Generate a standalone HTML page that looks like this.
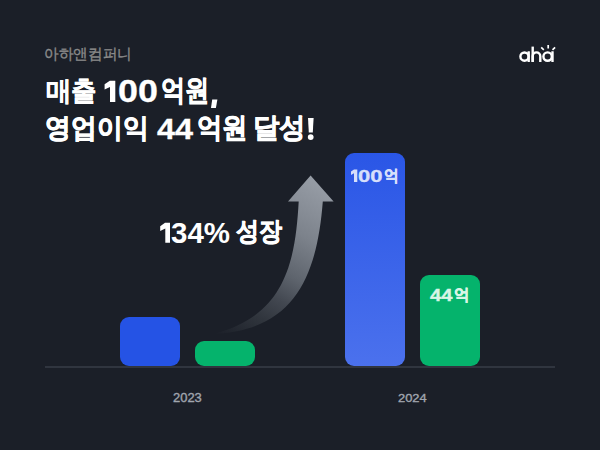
<!DOCTYPE html>
<html><head><meta charset="utf-8">
<style>
html,body{margin:0;padding:0;}
body{width:600px;height:450px;overflow:hidden;background:#1b1f28;position:relative;font-family:"Liberation Sans",sans-serif;}
.t{position:absolute;white-space:nowrap;line-height:1;transform-origin:0 0;}
.bar{position:absolute;border-radius:9px;}
#b1{left:120px;top:317px;width:60px;height:49px;background:#2553e5;}
#g1{left:195px;top:341px;width:60px;height:25px;background:#05b36c;}
#b2{left:345px;top:153px;width:60px;height:213px;background:linear-gradient(#2a56e6,#4b71ed);}
#g2{left:420px;top:275px;width:60px;height:91px;background:#05b36c;}
#base{position:absolute;left:45px;top:366px;width:510px;height:2px;background:#30353f;}
svg{position:absolute;left:0;top:0;}
</style></head><body>
<div class="t" style="left:44.47px;top:45.87px;font-size:15.02px;font-weight:normal;color:#8a8a8a;-webkit-text-stroke:0.35px #8a8a8a;transform:scaleX(0.9766)">아하앤컴퍼니</div>
<div class="t" style="left:46.46px;top:77.66px;font-size:26.51px;font-weight:bold;color:#ffffff;-webkit-text-stroke:0.35px #ffffff;transform:scaleX(0.9426)">매출</div>
<div class="t" style="left:117.8px;top:76.02px;font-size:31.3px;font-weight:bold;color:#ffffff;-webkit-text-stroke:0.3px #ffffff;transform:scaleX(1.1442)">00</div>
<div class="t" style="left:161.14px;top:75.77px;font-size:28.78px;font-weight:bold;color:#ffffff;-webkit-text-stroke:0.75px #ffffff;transform:scaleX(0.8337)">억원</div>
<div class="t" style="left:44.87px;top:113.52px;font-size:27.31px;font-weight:bold;color:#ffffff;-webkit-text-stroke:0.75px #ffffff;transform:scaleX(0.9571)">영업이익</div>
<div class="t" style="left:156.61px;top:114.17px;font-size:29.35px;font-weight:bold;color:#ffffff;-webkit-text-stroke:0.3px #ffffff;transform:scaleX(1.1056)">44</div>
<div class="t" style="left:196.77px;top:113.74px;font-size:27.65px;font-weight:bold;color:#ffffff;-webkit-text-stroke:0.75px #ffffff;transform:scaleX(0.9054)">억원</div>
<div class="t" style="left:253.4px;top:114.05px;font-size:27.63px;font-weight:bold;color:#ffffff;-webkit-text-stroke:0.75px #ffffff;transform:scaleX(0.9424)">달성</div>
<div class="t" style="left:171.35px;top:218.01px;font-size:29.46px;font-weight:bold;color:#ffffff;transform:scaleX(1.0012)">34%</div>
<div class="t" style="left:236.4px;top:218.99px;font-size:25.66px;font-weight:bold;color:#ffffff;-webkit-text-stroke:0.75px #ffffff;transform:scaleX(0.8869)">성장</div>
<div class="t" style="left:172.57px;top:392.4px;font-size:12.04px;font-weight:normal;color:#a0a5ae;-webkit-text-stroke:0.35px #a0a5ae;transform:scaleX(1.0753)">2023</div>
<div class="t" style="left:397.82px;top:392.26px;font-size:11.63px;font-weight:normal;color:#a0a5ae;-webkit-text-stroke:0.35px #a0a5ae;transform:scaleX(1.1101)">2024</div>
<svg width="600" height="450" viewBox="0 0 600 450">
<defs>
<linearGradient id="ag" x1="311" y1="176" x2="215" y2="334" gradientUnits="userSpaceOnUse">
<stop offset="0" stop-color="#979da6"/>
<stop offset="0.3" stop-color="#7c828b"/>
<stop offset="0.52" stop-color="#5e646d"/>
<stop offset="0.66" stop-color="#434851"/>
<stop offset="0.8" stop-color="#30353d"/>
<stop offset="1" stop-color="#1b1f28"/>
</linearGradient>
</defs>
<path d="M310.6 175.6 L333.6 201.5 L322.8 201.5 C317.2 273.4 295.9 330.6 214 333.8 C283.3 315.6 295.2 265.6 298.7 201.5 L288 201.5 Z" fill="url(#ag)"/>
<g fill="#fff">
<polygon points="212.2,99.6 217.4,99.6 215.9,108.1 211.0,108.1"/>
<polygon points="308,118 313.6,118 312.8,132.6 308.8,132.6"/>
<circle cx="310.7" cy="137.1" r="2.9"/>
<polygon points="104.6,84.2 109.8,80.7 115.3,80.7 115.3,102 110,102 110,87 104.6,89.5"/>
<polygon points="160.2,226.3 165,222.8 170,222.8 170,242.8 165.3,242.8 165.3,228.6 160.2,231"/>
</g>
<g id="logo">
<circle cx="524.5" cy="56.6" r="4.1" stroke="#fff" stroke-width="2.4" fill="none"/>
<rect x="527.5" y="51.2" width="2.4" height="10.8" rx="0.3" fill="#fff"/>
<rect x="531.5" y="46.6" width="2.4" height="15.3" fill="#fff"/>
<path d="M532.7 61.9 V56.2 A3.8 3.8 0 0 1 540.3 56.2 V61.9" stroke="#fff" stroke-width="2.4" fill="none"/>
<circle cx="547.6" cy="56.6" r="4.2" stroke="#fff" stroke-width="2.4" fill="none"/>
<rect x="551.3" y="51.2" width="2.4" height="10.8" rx="0.3" fill="#fff"/>
<path d="M548.2 45.1 V48.4 M541.2 47.4 L543.8 49.8 M555.1 47.4 L552.5 49.8" stroke="#fff" stroke-width="1.7" fill="none"/>
</g>
</svg>
<div class="bar" id="b1"></div>
<div class="bar" id="g1"></div>
<div class="bar" id="b2"></div>
<div class="bar" id="g2"></div>
<div id="base"></div>
<div class="t" style="left:358.4px;top:168.81px;font-size:16.94px;font-weight:bold;color:#d6dffb;-webkit-text-stroke:0.35px #d6dffb;transform:scaleX(1.3024)">00</div>
<div class="t" style="left:383.88px;top:167.77px;font-size:15.75px;font-weight:bold;color:#d6dffb;-webkit-text-stroke:0.55px #d6dffb;transform:scaleX(0.9253)">억</div>
<div class="t" style="left:430.44px;top:286.71px;font-size:17.25px;font-weight:bold;color:#d8f5e6;-webkit-text-stroke:0.35px #d8f5e6;transform:scaleX(1.1677)">44</div>
<div class="t" style="left:454.42px;top:285.81px;font-size:16.1px;font-weight:bold;color:#d8f5e6;-webkit-text-stroke:0.55px #d8f5e6;transform:scaleX(0.9693)">억</div>
<svg width="600" height="450" viewBox="0 0 600 450"><polygon fill="#d6dffb" points="351,171.4 354,169.6 357.3,169.6 357.3,182 354,182 354,173.3 351,175"/></svg>
</body></html>
